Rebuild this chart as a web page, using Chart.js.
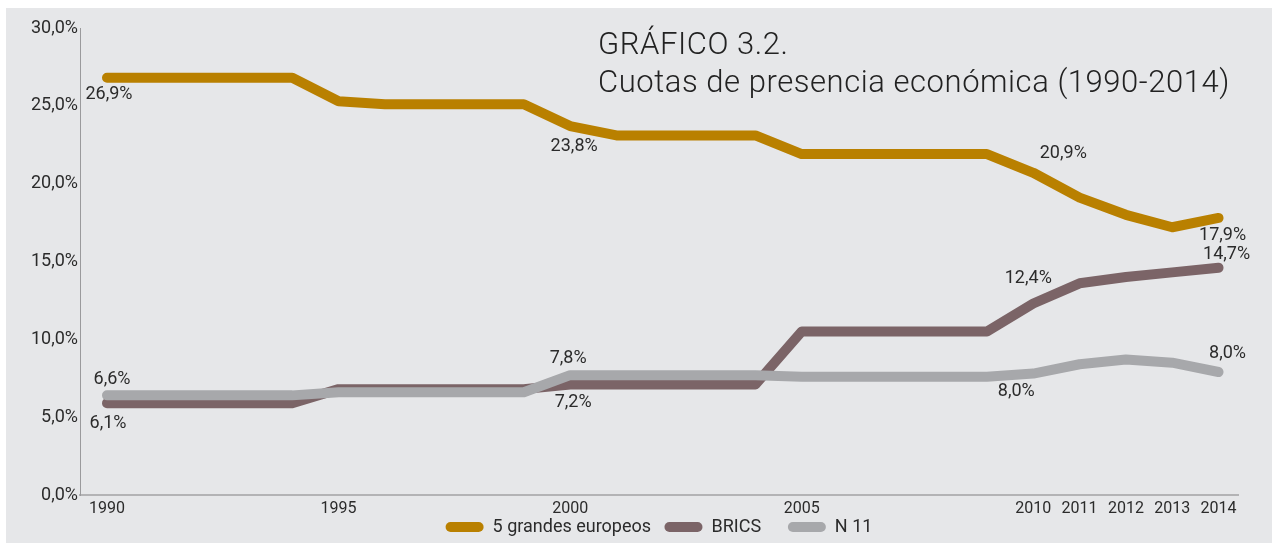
<!DOCTYPE html>
<html>
<head>
<meta charset="utf-8">
<script src="https://cdn.jsdelivr.net/npm/chart.js@4.4.1/dist/chart.umd.min.js"></script>
<style>
  html, body { margin: 0; padding: 0; background: #ffffff; }
  #panel {
    position: absolute; left: 6px; top: 8px;
    width: 1266px; height: 535px;
    background: #e6e7e9;
  }
  canvas { display: block; }
</style>
</head>
<body>
<div id="panel"><canvas id="chart" width="1266" height="535"></canvas></div>
<script>
// Data
const years = [1990, 1991, 1992, 1993, 1994, 1995, 1996, 1997, 1998, 1999,
  2000, 2001, 2002, 2003, 2004, 2005, 2006, 2007, 2008, 2009,
  2010, 2011, 2012, 2013, 2014];
const tickYears = [1990, 1995, 2000, 2005, 2010, 2011, 2012, 2013, 2014];

const seriesNames = ['5 grandes europeos', 'BRICS', 'N 11'];

const europeos = [26.8, 26.8, 26.8, 26.8, 26.8, 25.3, 25.1, 25.1, 25.1, 25.1,
  23.7, 23.1, 23.1, 23.1, 23.1, 21.9, 21.9, 21.9, 21.9, 21.9,
  20.7, 19.1, 18.0, 17.2, 17.8];
const brics = [5.9, 5.9, 5.9, 5.9, 5.9, 6.8, 6.8, 6.8, 6.8, 6.8,
  7.1, 7.1, 7.1, 7.1, 7.1, 10.5, 10.5, 10.5, 10.5, 10.5,
  12.3, 13.6, 14.0, 14.3, 14.6];
const n11 = [6.4, 6.4, 6.4, 6.4, 6.4, 6.6, 6.6, 6.6, 6.6, 6.6,
  7.7, 7.7, 7.7, 7.7, 7.7, 7.6, 7.6, 7.6, 7.6, 7.6,
  7.8, 8.4, 8.7, 8.5, 7.9];

// Point annotations (year + printed text) per series
const labelYears = [1990, 2000, 2010, 2014];
const europeosLabels = ['26,9%', '23,8%', '20,9%', '17,9%'];
const bricsLabels = ['6,1%', '7,2%', '12,4%', '14,7%'];
const n11Labels = ['6,6%', '7,8%', '8,0%', '8,0%'];

const titleLines = ['GRÁFICO 3.2.', 'Cuotas de presencia económica (1990-2014)'];

const COLOURS = ['#b98000', '#7b6467', '#a7a8ab'];
const TEXT = '#2b2b2b';
const FONT = 'Roboto, "Noto Sans", sans-serif';

// label offsets from the point, per series, in label order
const LABEL_OFFSETS = [
  [[2, 17], [4, 20], [30, -19], [4, 18]],
  [[1, 20], [3, 18], [-5, -25], [8, -13]],
  [[5, -16], [-2, -17], [-17, 18], [9, -19]],
];
// trailing gap after each legend entry (in spaces)
const LEGEND_GAPS = [3, 6, 0];

const pointLabelsPlugin = {
  id: 'pointLabels',
  afterDatasetsDraw(chart) {
    const ctx = chart.ctx;
    const all = [europeosLabels, bricsLabels, n11Labels];
    ctx.save();
    ctx.font = '18px ' + FONT;
    ctx.fillStyle = TEXT;
    ctx.textAlign = 'center';
    ctx.textBaseline = 'middle';
    all.forEach((texts, s) => {
      const meta = chart.getDatasetMeta(s);
      texts.forEach((t, i) => {
        const pt = meta.data[years.indexOf(labelYears[i])];
        const [dx, dy] = LABEL_OFFSETS[s][i];
        ctx.fillText(t, pt.x + dx, pt.y + dy);
      });
    });
    ctx.restore();
  },
};

const cornerTitlePlugin = {
  id: 'cornerTitle',
  afterDraw(chart) {
    const ctx = chart.ctx;
    ctx.save();
    ctx.font = '300 31px ' + FONT;
    ctx.letterSpacing = '0.55px';
    ctx.fillStyle = '#222';
    ctx.textAlign = 'left';
    ctx.textBaseline = 'alphabetic';
    ctx.fillText(titleLines[0], 592, 46);
    ctx.fillText(titleLines[1], 592, 84);
    ctx.restore();
  },
};

function line(label, data, colour, order) {
  return {
    label,
    data: years.map((y, i) => ({ x: y, y: data[i] })),
    borderColor: colour,
    backgroundColor: colour,
    borderWidth: 10,
    borderCapStyle: 'round',
    borderJoinStyle: 'round',
    pointRadius: 0,
    tension: 0,
    fill: false,
    order,
  };
}

new Chart(document.getElementById('chart'), {
  type: 'line',
  data: {
    datasets: [
      line(seriesNames[0], europeos, COLOURS[0], 1),
      line(seriesNames[1], brics, COLOURS[1], 2),
      line(seriesNames[2], n11, COLOURS[2], 0),
    ],
  },
  plugins: [pointLabelsPlugin, cornerTitlePlugin],
  options: {
    responsive: false,
    animation: false,
    layout: { padding: { left: 0, top: 20, right: 34, bottom: -3 } },
    plugins: {
      tooltip: { enabled: false },
      legend: {
        position: 'bottom',
        fullSize: false,
        labels: {
          font: { family: FONT, size: 18 },
          color: TEXT,
          boxWidth: 38,
          boxHeight: 10,
          padding: 0,
          useBorderRadius: true,
          borderRadius: 5,
          sort: (a, b) => a.datasetIndex - b.datasetIndex,
          generateLabels(chart) {
            const items = Chart.defaults.plugins.legend.labels.generateLabels(chart);
            return items.map(it => Object.assign(it, {
              lineWidth: 0,
              fillStyle: it.strokeStyle,
              text: it.text + ' '.repeat(LEGEND_GAPS[it.datasetIndex]),
            }));
          },
        },
      },
    },
    scales: {
      x: {
        type: 'linear',
        min: 1989.417,
        max: 2014.42,
        afterBuildTicks: scale => { scale.ticks = tickYears.map(v => ({ value: v })); },
        afterFit: scale => { scale.height = 23; },
        grid: { display: true, drawOnChartArea: false, drawTicks: false },
        border: { display: true, color: '#b3b3b5', width: 2 },
        ticks: {
          autoSkip: false,
          maxRotation: 0,
          padding: 4,
          color: TEXT,
          font: { family: FONT, size: 16 },
          callback: v => String(v),
        },
      },
      y: {
        min: 0,
        max: 30,
        afterFit: scale => { scale.width = 74; },
        grid: { display: true, drawOnChartArea: false, drawTicks: false },
        border: { display: true, color: '#9a9a9c', width: 1 },
        ticks: {
          stepSize: 5,
          padding: 2,
          color: TEXT,
          font: { family: FONT, size: 18 },
          callback: v => v.toFixed(1).replace('.', ',') + '%',
        },
      },
    },
  },
});
</script>
</body>
</html>
